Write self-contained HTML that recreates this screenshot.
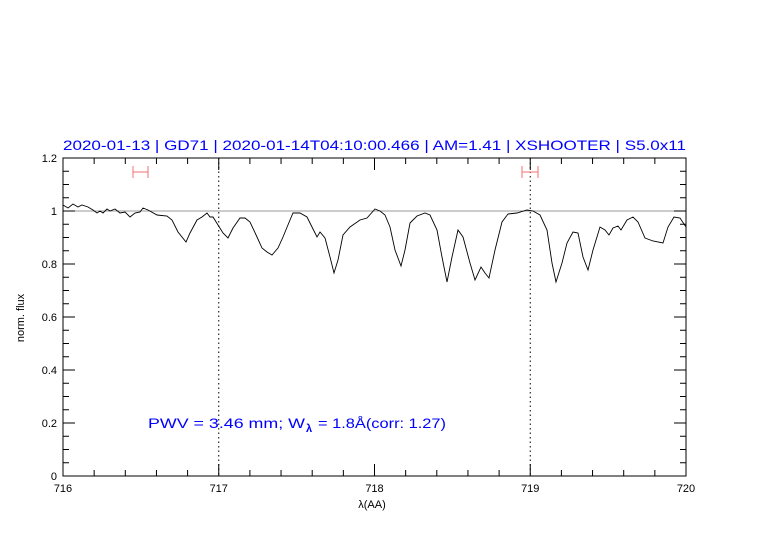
<!DOCTYPE html>
<html><head><meta charset="utf-8"><style>body{margin:0;background:#fff}svg{display:block}</style></head><body>
<svg width="782" height="542" xmlns="http://www.w3.org/2000/svg" font-family="Liberation Sans, sans-serif">
<rect width="782" height="542" fill="#fff"/>
<text x="63" y="150" fill="#0000ff" font-size="14" textLength="623" lengthAdjust="spacingAndGlyphs">2020-01-13 | GD71 | 2020-01-14T04:10:00.466 | AM=1.41 | XSHOOTER | S5.0x11</text>
<line x1="63" y1="211" x2="686" y2="211" stroke="#999" stroke-width="1"/>
<line x1="218.75" y1="158" x2="218.75" y2="476" stroke="#000" stroke-dasharray="1.5,3" stroke-width="1"/>
<line x1="530.25" y1="158" x2="530.25" y2="476" stroke="#000" stroke-dasharray="1.5,3" stroke-width="1"/>
<g stroke="#f07070" stroke-width="1" fill="none">
<path d="M133 172H148M133 166V178M148 166V178"/>
<path d="M522 172H538M522 166V178M538 166V178"/>
</g>
<polyline fill="none" stroke="#000" stroke-width="0.9" points="63,205 68,208 73,204 78,207 82,205 88,207 93,210 97,213 100,211 103,213 107,209 110,211 115,209 120,213 125,212 130,217 135,213 140,212 143,208 148,210 157,215 167,216 172,220 178,232 186,242 190,233 197,220 202,217 207,213 210,217 213,217 218,225 223,233 228,238 233,228 240,218 245,218 250,222 257,237 262,248 267,252 272,255 278,248 283,237 290,220 293,213 300,213 307,217 312,227 317,237 320,232 325,238 330,257 334,273 338,260 343,235 350,227 360,220 367,218 375,209 380,211 385,215 390,227 395,250 401,266 405,250 410,223 417,216 425,213 430,215 437,230 442,257 447,282 452,257 458,230 463,237 470,263 475,280 481,267 485,273 489,278 495,250 502,222 508,214 517,213 527,210 533,211 540,215 547,230 552,263 556,282 562,263 567,243 573,232 578,233 583,257 588,270 593,250 600,227 605,230 609,235 613,228 618,226 621,230 627,220 633,217 638,222 645,238 653,241 663,243 668,227 674,217 680,218 686,227"/>
<rect x="63" y="158" width="623" height="318" fill="none" stroke="#000" stroke-width="1"/>
<g stroke="#000" stroke-width="1">
<path d="M63 476v-12M218.75 476v-12M374.5 476v-12M530.25 476v-12M63 158v12M218.75 158v12M374.5 158v12M530.25 158v12
M94.15 476v-6M125.3 476v-6M156.45 476v-6M187.6 476v-6M249.9 476v-6M281.05 476v-6M312.2 476v-6M343.35 476v-6M405.65 476v-6M436.8 476v-6M467.95 476v-6M499.1 476v-6M561.4 476v-6M592.55 476v-6M623.7 476v-6M654.85 476v-6
M94.15 158v6M125.3 158v6M156.45 158v6M187.6 158v6M249.9 158v6M281.05 158v6M312.2 158v6M343.35 158v6M405.65 158v6M436.8 158v6M467.95 158v6M499.1 158v6M561.4 158v6M592.55 158v6M623.7 158v6M654.85 158v6
M63 423h12M63 370h12M63 317h12M63 264h12M63 211h12M686 423h-12M686 370h-12M686 317h-12M686 264h-12M686 211h-12
M63 462.75h6M63 449.5h6M63 436.25h6M63 409.75h6M63 396.5h6M63 383.25h6M63 356.75h6M63 343.5h6M63 330.25h6M63 303.75h6M63 290.5h6M63 277.25h6M63 250.75h6M63 237.5h6M63 224.25h6M63 197.75h6M63 184.5h6M63 171.25h6
M686 462.75h-6M686 449.5h-6M686 436.25h-6M686 409.75h-6M686 396.5h-6M686 383.25h-6M686 356.75h-6M686 343.5h-6M686 330.25h-6M686 303.75h-6M686 290.5h-6M686 277.25h-6M686 250.75h-6M686 237.5h-6M686 224.25h-6M686 197.75h-6M686 184.5h-6M686 171.25h-6"/>
</g>
<g font-size="11" fill="#000" text-anchor="middle">
<text x="63" y="492">716</text><text x="218.75" y="492">717</text><text x="374.5" y="492">718</text><text x="530.25" y="492">719</text><text x="686" y="492">720</text>
<text x="372" y="508">λ(AA)</text>
</g>
<g font-size="11" fill="#000" text-anchor="end">
<text x="57" y="480">0</text><text x="57" y="427">0.2</text><text x="57" y="374">0.4</text><text x="57" y="321">0.6</text><text x="57" y="268">0.8</text><text x="57" y="215">1</text><text x="57" y="162">1.2</text>
</g>
<text transform="translate(24,318) rotate(-90)" font-size="11" text-anchor="middle" fill="#000">norm. flux</text>
<g font-size="14" fill="#0000ff">
<text x="148" y="428" textLength="157" lengthAdjust="spacingAndGlyphs">PWV = 3.46 mm; W</text>
<text x="306" y="432" font-size="11" font-weight="bold">λ</text>
<text x="318" y="428" textLength="128" lengthAdjust="spacingAndGlyphs">= 1.8Å(corr: 1.27)</text>
</g>
</svg>
</body></html>
